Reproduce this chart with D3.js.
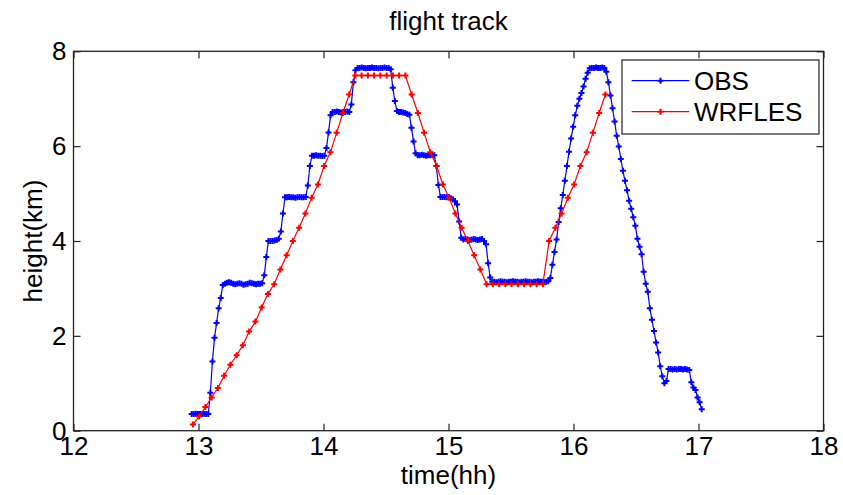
<!DOCTYPE html>
<html>
<head>
<meta charset="utf-8">
<script src="https://cdn.jsdelivr.net/npm/d3@7"></script>
<style>
  body { margin: 0; background: #fff; }
  text { font-family: "Liberation Sans", Arial, sans-serif; fill: #000; }
</style>
</head>
<body>
<svg id="chart" width="843" height="495"></svg>
<script>
// flight track: observed height vs WRF-LES, height in km over time in hours

// OBS is logged about once a minute
var obsStart = 12.9456,
    obsStep = 0.016585;
var obsHeight = [
    0.35, 0.35, 0.36, 0.35, 0.35, 0.35, 0.36, 0.35, 0.35,
    0.8, 1.46, 1.96, 2.27, 2.58, 2.8, 3.07,
    3.1, 3.12, 3.13, 3.12, 3.1, 3.09, 3.1, 3.11, 3.1, 3.08, 3.09, 3.1, 3.12, 3.11, 3.1, 3.09, 3.1, 3.1, 3.11,
    3.28, 3.66, 4.0,
    4.0, 4.0, 4.01, 4.02, 4.05,
    4.2, 4.58, 4.92,
    4.92, 4.93, 4.92, 4.92, 4.91, 4.92, 4.93, 4.92, 4.92, 4.93,
    5.17, 5.58, 5.8,
    5.8, 5.81, 5.8, 5.8, 5.79, 5.8,
    5.96, 6.29, 6.65,
    6.72, 6.72, 6.73, 6.72, 6.71, 6.72, 6.72, 6.73, 6.72,
    6.88, 7.35, 7.6,
    7.65, 7.65, 7.66, 7.65, 7.64, 7.65, 7.65, 7.66, 7.65, 7.65, 7.64, 7.65, 7.65, 7.66, 7.65, 7.65,
    7.62, 7.23, 6.95, 6.74,
    6.72, 6.72, 6.71, 6.7, 6.68, 6.66,
    6.39, 6.1, 5.85,
    5.81, 5.81, 5.82, 5.81, 5.8, 5.81, 5.81, 5.82, 5.81,
    5.58, 5.18, 4.93,
    4.93, 4.93, 4.92, 4.93, 4.9, 4.88,
    4.84, 4.77, 4.41, 4.07,
    4.03, 4.04, 4.03, 4.02, 4.03, 4.04, 4.03, 4.02, 4.03, 4.04, 4.0,
    3.93, 3.53, 3.23,
    3.14, 3.14, 3.13, 3.14, 3.15, 3.14, 3.14, 3.13, 3.14, 3.14, 3.15, 3.14, 3.14, 3.13,
    3.14, 3.14, 3.15, 3.14, 3.14, 3.13, 3.14, 3.14, 3.15, 3.14, 3.14, 3.13, 3.14, 3.15,
    3.22, 3.5, 3.77, 4.03, 4.4, 4.69, 4.97, 5.27, 5.58, 5.88,
    6.16, 6.41, 6.65, 6.85, 7.0, 7.12, 7.26, 7.42, 7.55, 7.64,
    7.65, 7.65, 7.66, 7.65, 7.65, 7.66, 7.65,
    7.57, 7.35, 7.07, 6.8, 6.52, 6.22, 5.99, 5.73, 5.48, 5.27,
    5.07, 4.85, 4.68, 4.5, 4.32, 4.05, 3.88, 3.72, 3.35, 3.1,
    2.93, 2.58, 2.34, 2.1, 1.86, 1.65, 1.36, 1.15, 1.0,
    1.05,
    1.3, 1.3, 1.29, 1.3, 1.29, 1.3, 1.3, 1.29, 1.3, 1.29, 1.28,
    1.02, 0.91, 0.86, 0.7, 0.6, 0.45
];

// model output every 3 minutes
var wrfStart = 12.955,
    wrfStep = 0.05;
var wrfHeight = [
    0.13, 0.3, 0.5, 0.7, 0.9, 1.16, 1.39, 1.59, 1.8, 2.09,
    2.3, 2.6, 2.88, 3.09, 3.4, 3.7, 4.0, 4.28, 4.58, 4.91,
    5.19, 5.58, 5.87, 6.28, 6.7, 7.09, 7.49,
    7.49, 7.49, 7.49, 7.49, 7.49, 7.49, 7.49, 7.49,
    7.09, 6.7, 6.28, 5.87, 5.58, 5.19, 4.91, 4.58, 4.28, 4.0, 3.7, 3.4, 3.09,
    3.09, 3.09, 3.09, 3.09, 3.09, 3.09, 3.09, 3.09, 3.09,
    4.0, 4.28, 4.58, 4.91, 5.19, 5.58, 5.87, 6.28, 6.7, 7.09
];

var xTicks = [12, 13, 14, 15, 16, 17, 18];
var yTicks = [0, 2, 4, 6, 8];
var seriesNames = ['OBS', 'WRFLES'];
var seriesColors = ['#0000ff', '#ff0000'];

var margin = {top: 51.3, right: 19.5, bottom: 64.3, left: 73.5},
    width = 843 - margin.left - margin.right,
    height = 495 - margin.top - margin.bottom;

function toPoints(start, step, values) {
    return values.map(function(h, i) { return {t: start + i * step, h: h}; });
}

var series = [
    toPoints(obsStart, obsStep, obsHeight),
    toPoints(wrfStart, wrfStep, wrfHeight)
];

var x = d3.scaleLinear().domain([12, 18]).range([0, width]);
var y = d3.scaleLinear().domain([0, 8]).range([height, 0]);

var svg = d3.select('#chart');
svg.append('rect').attr('width', 843).attr('height', 495).attr('fill', '#fff');

var g = svg.append('g')
    .attr('transform', 'translate(' + margin.left + ',' + margin.top + ')');

// axes, ticks pointing inwards like matlab
var xAxis = d3.axisBottom(x).tickValues(xTicks).tickFormat(d3.format('d'))
    .tickSizeInner(-7).tickSizeOuter(0).tickPadding(6);
var xAxisTop = d3.axisTop(x).tickValues(xTicks).tickSizeInner(-7).tickSizeOuter(0).tickFormat('');
var yAxis = d3.axisLeft(y).tickValues(yTicks).tickFormat(d3.format('d'))
    .tickSizeInner(-7).tickSizeOuter(0).tickPadding(7);
var yAxisRight = d3.axisRight(y).tickValues(yTicks).tickSizeInner(-7).tickSizeOuter(0).tickFormat('');

g.append('g').attr('class', 'x axis').attr('transform', 'translate(0,' + height + ')').call(xAxis);
g.append('g').attr('class', 'x axis').call(xAxisTop);
g.append('g').attr('class', 'y axis').call(yAxis);
g.append('g').attr('class', 'y axis').attr('transform', 'translate(' + width + ',0)').call(yAxisRight);

g.selectAll('.axis .domain').remove();
g.selectAll('.axis line').attr('stroke', '#222').attr('stroke-width', 1.2);
g.selectAll('.axis text').style('font-size', '26px').attr('fill', '#000');

g.append('rect')
    .attr('width', width)
    .attr('height', height)
    .attr('fill', 'none')
    .attr('stroke', '#222')
    .attr('stroke-width', 1.3);

var line = d3.line()
    .x(function(d) { return x(d.t); })
    .y(function(d) { return y(d.h); });

var marker = d3.symbol().type(d3.symbolCross).size(20);

series.forEach(function(data, si) {
    g.append('path')
        .datum(data)
        .attr('fill', 'none')
        .attr('stroke', seriesColors[si])
        .attr('stroke-width', 1.2)
        .attr('d', line);

    g.append('g').selectAll('path')
        .data(data)
        .enter().append('path')
        .attr('transform', function(d) { return 'translate(' + x(d.t) + ',' + y(d.h) + ')'; })
        .attr('d', marker)
        .attr('fill', seriesColors[si]);
});

// title and labels
svg.append('text')
    .attr('x', margin.left + width / 2)
    .attr('y', 30)
    .attr('text-anchor', 'middle')
    .style('font-size', '26px')
    .text('flight track');

svg.append('text')
    .attr('x', margin.left + width / 2)
    .attr('y', 484)
    .attr('text-anchor', 'middle')
    .style('font-size', '26px')
    .text('time(hh)');

svg.append('text')
    .attr('transform', 'translate(42,' + (margin.top + height / 2) + ') rotate(-90)')
    .attr('text-anchor', 'middle')
    .style('font-size', '26px')
    .text('height(km)');

// legend
var legend = svg.append('g').attr('transform', 'translate(622,60)');
legend.append('rect')
    .attr('width', 197)
    .attr('height', 74)
    .attr('fill', '#fff')
    .attr('stroke', '#222')
    .attr('stroke-width', 1.2);

seriesNames.forEach(function(name, i) {
    var ly = 20.7 + i * 31;
    legend.append('line')
        .attr('x1', 9.7).attr('x2', 67.3)
        .attr('y1', ly).attr('y2', ly)
        .attr('stroke', seriesColors[i])
        .attr('stroke-width', 1.2);
    legend.append('path')
        .attr('transform', 'translate(38.5,' + ly + ')')
        .attr('d', marker)
        .attr('fill', seriesColors[i]);
    legend.append('text')
        .attr('x', 72)
        .attr('y', ly + 9.5)
        .style('font-size', '26px')
        .text(name);
});
</script>
</body>
</html>
